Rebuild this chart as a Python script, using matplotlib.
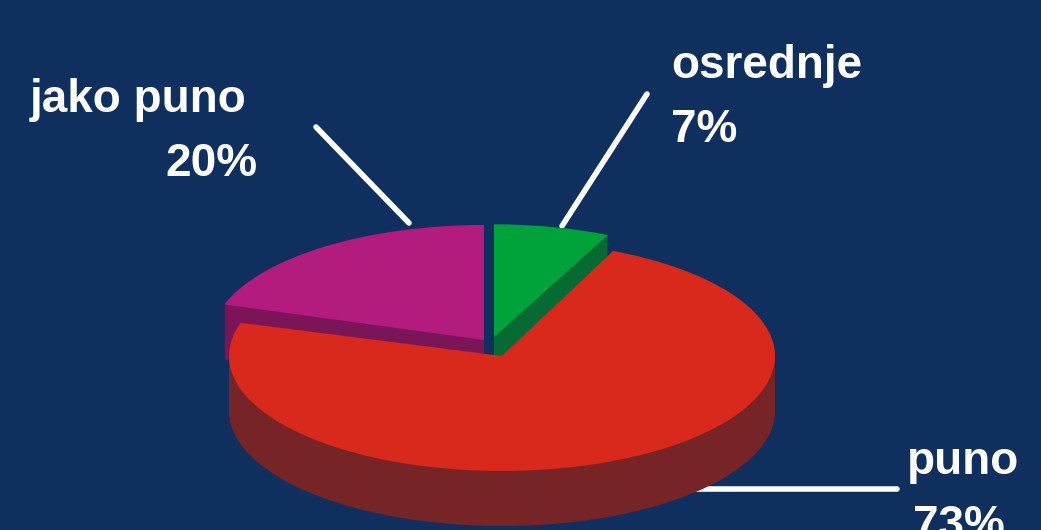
import matplotlib
matplotlib.use('Agg')
import matplotlib.pyplot as plt

plt.rcParams['font.family'] = ['Liberation Sans', 'DejaVu Sans']

labels = ['osrednje', 'puno', 'jako puno']
shares = [7, 73, 20]
pct_labels = ['7%', '73%', '20%']

W, H = 1041, 530
RX, RY = 273, 115      # ellipse radii in px
X0, Y0 = 503, 357      # red slice tip in px, data origin

bg = '#0F2F5E'
top_cols = ['#00A23A', '#D9281C', '#B31C7E']
wall_cols = ['#066B32', '#772426', '#7A1558']
# slice tips in px, slices are pulled apart
centers = [(494, 337), (502, 356), (484, 340)]
radii = [0.98, 1.0, 1.0]
starts = [90, 91.2, 90]
depth = 55


def px(x, y):
    return (x - X0) / RX, (Y0 - y) / RY


fig = plt.figure(figsize=(W / 100, H / 100), dpi=100, facecolor=bg)
ax = fig.add_axes([0, 0, 1, 1])


def one_slice(i, col, centre):
    cols = [col if j == i else 'none' for j in range(len(shares))]
    ax.pie(shares, colors=cols, startangle=starts[i], counterclock=False, radius=radii[i],
           center=centre, wedgeprops={'linewidth': 0})


# lines go under the pie
line = dict(color='white', lw=4, solid_capstyle='round', zorder=0)
ax.plot(*zip(px(647, 94), px(562, 226)), **line)
ax.plot(*zip(px(316, 127), px(409, 223)), **line)
ax.plot(*zip(px(680, 489), px(897, 489)), **line)

for i in [2, 0, 1]:
    cx, cy = centers[i]
    for d in range(depth, 0, -1):
        one_slice(i, wall_cols[i], px(cx, cy + d))
    one_slice(i, top_cols[i], px(cx, cy))

txt = dict(color='white', fontsize=33, fontweight='bold', va='baseline', clip_on=False)
ax.text(*px(30, 112), labels[2], ha='left', **txt)
ax.text(*px(258, 176), pct_labels[2], ha='right', **txt)
ax.text(*px(671, 78), labels[0], ha='left', **txt)
ax.text(*px(671, 142), pct_labels[0], ha='left', **txt)
ax.text(*px(1019, 474), labels[1], ha='right', **txt)
ax.text(*px(1005, 538), pct_labels[1], ha='right', **txt)

ax.set_aspect('auto')
ax.set_xlim(px(0, 0)[0], px(W, 0)[0])
ax.set_ylim(px(0, H)[1], px(0, 0)[1])
ax.axis('off')

plt.savefig('out.png', dpi=100, facecolor=bg)
